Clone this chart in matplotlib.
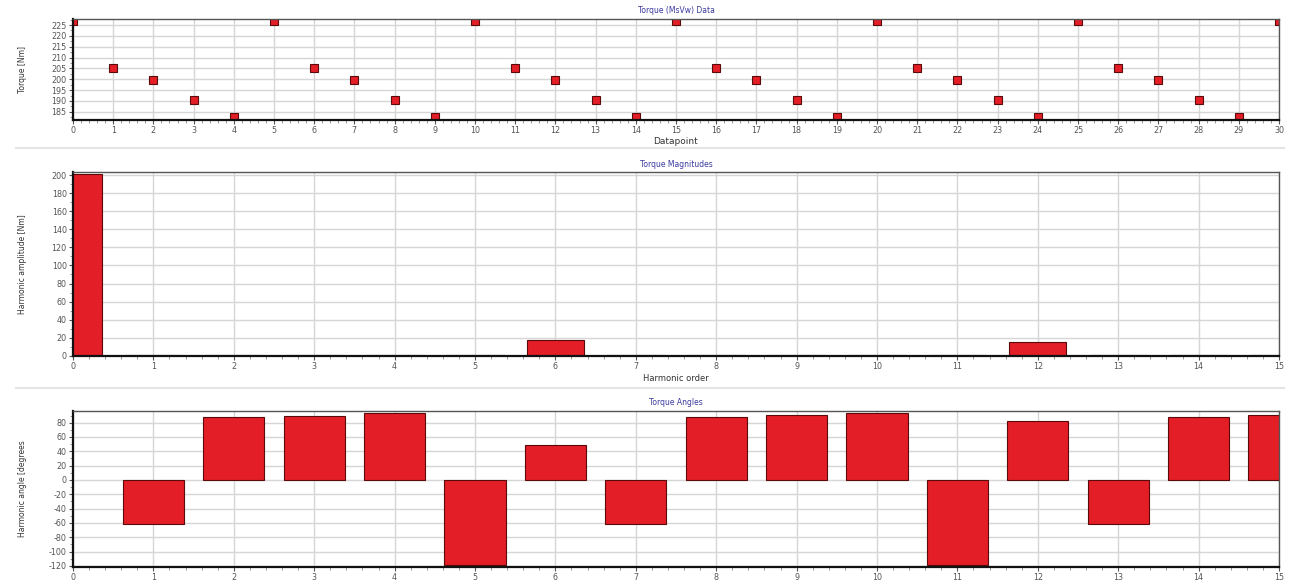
import matplotlib
matplotlib.use("Agg")
import matplotlib.pyplot as plt
from matplotlib.ticker import MultipleLocator, AutoMinorLocator
from matplotlib.lines import Line2D

# Torque samples over one electrical period (repeats every 5 datapoints)
datapoints = list(range(31))
torque = [227, 205, 199.5, 190.5, 182.5,
          227, 205, 199.5, 190.5, 182.5,
          227, 205, 199.5, 190.5, 182.5,
          227, 205, 199.5, 190.5, 182.5,
          227, 205, 199.5, 190.5, 182.5,
          227, 205, 199.5, 190.5, 182.5,
          227]

# Harmonic decomposition
harmonic_order = list(range(16))
harmonic_amplitude = [201, 0.5, 0.5, 0.5, 0.5, 0.5, 17, 0.5, 0.5, 0.5, 0.5, 0.5, 15, 0.5, 0.5, 0.5]
angle_order = list(range(1, 16))
harmonic_angle = [-62, 88, 90, 93, -118, 49, -62, 88, 91, 94, -118, 82, -62, 88, 91]

RED = "#e41e26"
EDGE = "#5a0a0a"
TITLE_C = "#3a3aa0"
TICK_C = "#555555"
GRID_C = "#d6d6d6"

plt.rcParams["font.family"] = ["DejaVu Sans"]
plt.rcParams["axes.unicode_minus"] = False

W, H = 1297, 582
fig = plt.figure(figsize=(W / 100, H / 100), dpi=100)
fig.patch.set_facecolor("white")


def px_axes(left, top, right, bottom):
    return fig.add_axes([left / W, 1 - bottom / H, (right - left) / W, (bottom - top) / H])


def style(ax, title, ylabel):
    ax.set_title(title, fontsize=5.5, color=TITLE_C, pad=4)
    ax.set_ylabel(ylabel, fontsize=5.5, color="#333333")
    ax.yaxis.set_label_coords(-0.038, 0.5)
    ax.grid(True, which="major", color=GRID_C, linewidth=1.0)
    ax.set_axisbelow(True)
    ax.tick_params(axis="both", which="major", labelsize=5.8, colors=TICK_C,
                   length=3, width=0.8, pad=1.5)
    ax.tick_params(axis="both", which="minor", length=2, width=0.6, colors="#888888")
    for s in ("left", "bottom"):
        ax.spines[s].set_color("#111111")
        ax.spines[s].set_linewidth(1.6)
    for s in ("top", "right"):
        ax.spines[s].set_color("#555555")
        ax.spines[s].set_linewidth(1.0)
    ax.xaxis.set_minor_locator(AutoMinorLocator(5))
    ax.yaxis.set_minor_locator(AutoMinorLocator(2))


# --- Torque data ---
ax1 = px_axes(73, 19, 1279, 120)
ax1.plot(datapoints, torque, linestyle="none", marker="s", markersize=5.5,
         markerfacecolor=RED, markeredgecolor=EDGE, markeredgewidth=0.8, clip_on=True)
ax1.set_xlim(0, 30)
ax1.set_ylim(181.2, 227.8)
ax1.xaxis.set_major_locator(MultipleLocator(1))
ax1.set_yticks(range(185, 226, 5))
ax1.set_xlabel("Datapoint", fontsize=6.5, color="#333333", labelpad=1)
style(ax1, "Torque (MsVw) Data", "Torque [Nm]")

# --- Harmonic magnitudes ---
ax2 = px_axes(73, 172.5, 1279, 355.7)
ax2.bar(harmonic_order, harmonic_amplitude, width=0.71, color=RED,
        edgecolor=EDGE, linewidth=0.8)
ax2.set_xlim(0, 15)
ax2.set_ylim(0, 203)
ax2.xaxis.set_major_locator(MultipleLocator(1))
ax2.yaxis.set_major_locator(MultipleLocator(20))
ax2.set_xlabel("Harmonic order", fontsize=6, color="#333333", labelpad=2)
style(ax2, "Torque Magnitudes", "Harmonic amplitude [Nm]")

# --- Harmonic angles ---
ax3 = px_axes(73, 410.7, 1279, 566.7)
ax3.bar(angle_order, harmonic_angle, width=0.76, color=RED,
        edgecolor=EDGE, linewidth=0.8)
ax3.set_xlim(0, 15)
ax3.set_ylim(-121, 96.7)
ax3.xaxis.set_major_locator(MultipleLocator(1))
ax3.set_yticks(range(-120, 81, 20))
ax3.set_xlabel("Harmonic order", fontsize=6, color="#333333", labelpad=2)
style(ax3, "Torque Angles", "Harmonic angle [degrees")

# panel separators
for ypx in (148, 388):
    fig.add_artist(Line2D([0.012, 0.99], [1 - ypx / H] * 2, color="#e4e4e4",
                          linewidth=1.6, transform=fig.transFigure))

fig.savefig("out.png", dpi=100, facecolor="white")
